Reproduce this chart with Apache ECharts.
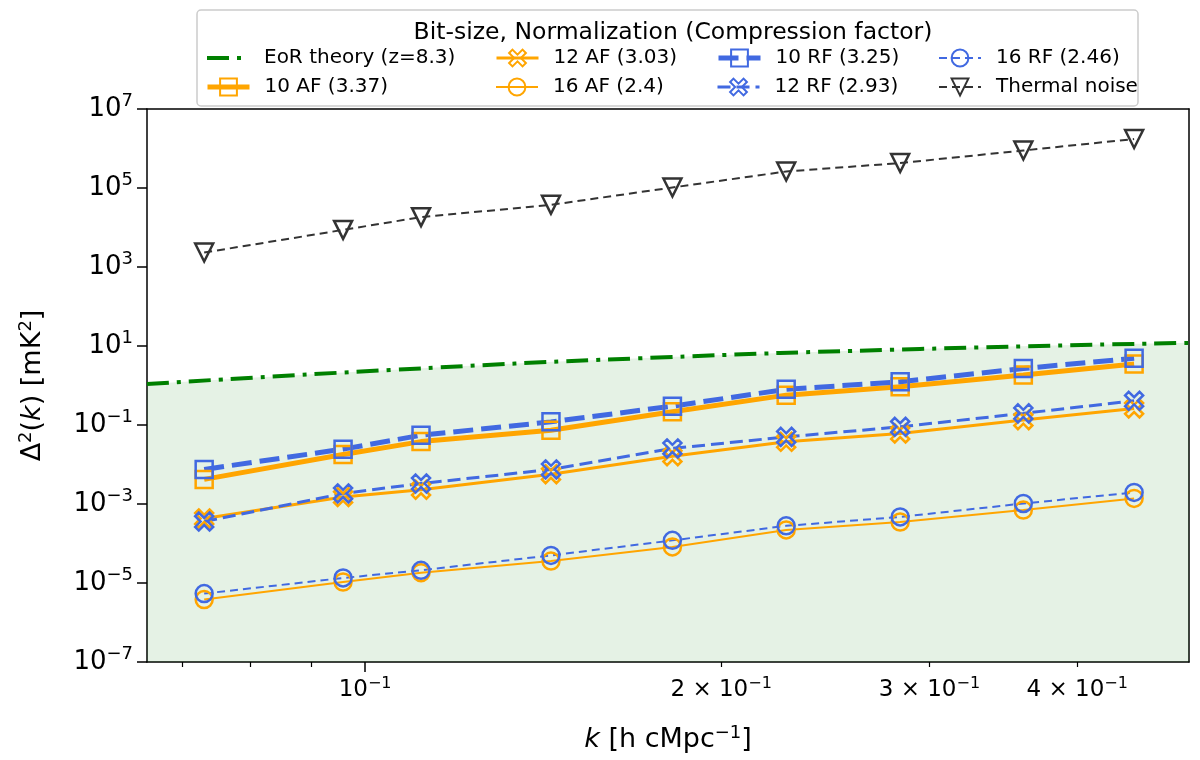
<!DOCTYPE html>
<html>
<head>
<meta charset="utf-8">
<script src="https://cdn.jsdelivr.net/npm/echarts@6/dist/echarts.min.js"></script>
<style>
html,body{margin:0;padding:0;background:#fff;}
#chart{width:1200px;height:760px;}
</style>
</head>
<body>
<div id="chart"></div>
<script>
// ---- data ----
const kValues = [0.0731, 0.0958, 0.1115, 0.1436, 0.1819, 0.2270, 0.2834, 0.3602, 0.4469];
const af10 = [0.0042, 0.018, 0.038, 0.074, 0.216, 0.57, 0.93, 1.84, 3.5];
const af12 = [4.3e-4, 1.5e-3, 2.3e-3, 5.7e-3, 0.0162, 0.0375, 0.061, 0.133, 0.263];
const af16 = [3.8e-6, 1.06e-5, 1.83e-5, 3.6e-5, 8.2e-5, 2.2e-4, 3.5e-4, 7.0e-4, 1.38e-3];
const rf10 = [0.0075, 0.0245, 0.055, 0.12, 0.30, 0.80, 1.24, 2.7, 4.9];
const rf12 = [3.6e-4, 1.85e-3, 3.3e-3, 7.5e-3, 0.0255, 0.050, 0.090, 0.197, 0.41];
const rf16 = [5.4e-6, 1.34e-5, 2.1e-5, 5.0e-5, 1.2e-4, 2.8e-4, 4.7e-4, 1.03e-3, 1.96e-3];
const thermal = [2320, 8700, 18300, 37500, 1.03e5, 2.62e5, 4.28e5, 8.9e5, 1.74e6];
const theoryK = [0.0654, 0.105, 0.1708, 0.2945, 0.4973];
const theoryVal = [1.09, 2.47, 4.9, 8.4, 12];
const xMin = 0.0654, xMax = 0.4973;
const yMin = 1e-7, yMax = 1e7;
const yTickValues = [1e-7, 1e-5, 1e-3, 1e-1, 1e1, 1e3, 1e5, 1e7];
const xLabelValues = [0.1, 0.2, 0.3, 0.4];
const xMinorValues = [0.07, 0.08, 0.09, 0.2, 0.3, 0.4];
const xMajorValues = [0.1];
const legendTitle = 'Bit-size, Normalization (Compression factor)';
const names = {
  theory: 'EoR theory (z=8.3)',
  af10: '10 AF (3.37)', af12: '12 AF (3.03)', af16: '16 AF (2.4)',
  rf10: '10 RF (3.25)', rf12: '12 RF (2.93)', rf16: '16 RF (2.46)',
  thermal: 'Thermal noise'
};

// ---- styles ----
const FONT = 'DejaVu Sans';
const ORANGE = '#FFA500', BLUE = '#4169E1', GREEN = '#008000', DARK = '#333333';
const XPATH = 'path://M2,0 L5,3 L8,0 L10,2 L7,5 L10,8 L8,10 L5,7 L2,10 L0,8 L3,5 L0,2 Z';
const pairs = (xs, ys) => xs.map((x, i) => [x, ys[i]]);
const sup = s => String(s).replace('-', '\u2212');

const lineWidths = {};
function mk(name, arr, color, width, type, symbol, size, extra) {
  lineWidths[name] = width;
  return Object.assign({
    name, type: 'line', data: pairs(kValues, arr),
    symbol, symbolSize: size, showSymbol: true,
    lineStyle: {color, width, type, cap: 'butt'},
    itemStyle: {color: 'rgba(255,255,255,0)', borderColor: color, borderWidth: 2.5},
    emphasis: {disabled: true},
    animation: false, z: 3
  }, extra || {});
}

lineWidths[names.theory] = 4;
const series = [
  {
    name: names.theory, type: 'line', data: pairs(theoryK, theoryVal),
    showSymbol: false, symbol: 'none', smooth: true,
    lineStyle: {color: GREEN, width: 4, type: [22, 8, 4, 8], cap: 'butt'},
    itemStyle: {color: GREEN},
    areaStyle: {color: 'rgba(0,128,0,0.1)', opacity: 1, origin: 'start'},
    emphasis: {disabled: true}, animation: false, z: 2
  },
  mk(names.af10, af10, ORANGE, 5, 'solid', 'rect', 17),
  mk(names.af12, af12, ORANGE, 3, 'solid', XPATH, 18),
  mk(names.af16, af16, ORANGE, 2, 'solid', 'circle', 17),
  mk(names.rf10, rf10, BLUE, 5, [20, 8], 'rect', 17),
  mk(names.rf12, rf12, BLUE, 3, [13, 6], XPATH, 18),
  mk(names.rf16, rf16, BLUE, 2, [8, 5], 'circle', 17),
  mk(names.thermal, thermal, DARK, 2, [8, 5], 'triangle', 18, {symbolRotate: 180})
];

// legend layout (column-major like the reference)
const legendItems = [
  [names.theory, 205, 48], [names.af10, 205, 77],
  [names.af12, 495, 48], [names.af16, 495, 77],
  [names.rf10, 716, 48], [names.rf12, 716, 77],
  [names.rf16, 938, 48], [names.thermal, 938, 77]
];
const legends = legendItems.map(([n, l, t]) => {
  const item = {name: n, lineStyle: {width: lineWidths[n]}};
  if (n === names.theory) item.itemStyle = {opacity: 0};
  return {
    data: [item], left: l, top: t, padding: 0, itemWidth: 42, itemHeight: 21,
    selectedMode: false,
    textStyle: {fontFamily: FONT, fontSize: 20, color: '#000', padding: [0, 0, 0, 10]}
  };
});

const gridL = 147, gridR = 11, gridT = 109, gridB = 98;

const option = {
  backgroundColor: '#fff',
  animation: false,
  title: {
    text: legendTitle, left: 668, top: 16, textAlign: 'center',
    textStyle: {fontFamily: FONT, fontSize: 23.5, fontWeight: 'normal', color: '#000'}
  },
  graphic: [{
    type: 'rect', z: -1, silent: true,
    shape: {x: 197, y: 10, width: 941, height: 96, r: 4},
    style: {fill: 'rgba(255,255,255,0.8)', stroke: '#cccccc', lineWidth: 1.5}
  }],
  legend: legends,
  grid: {left: gridL, right: gridR, top: gridT, bottom: gridB, containLabel: false},
  xAxis: [
    {
      type: 'log', min: xMin, max: xMax, position: 'bottom',
      axisLine: {show: true, lineStyle: {color: '#000', width: 1.5}},
      axisTick: {show: true, length: 5, lineStyle: {color: '#000', width: 1.2}, customValues: xMinorValues},
      axisLabel: {
        show: true, customValues: xLabelValues, margin: 14,
        fontFamily: FONT, fontSize: 23, color: '#000',
        formatter: v => {
          const e = Math.floor(Math.log10(v) + 1e-9);
          const m = Math.round(v / Math.pow(10, e));
          return (m === 1 ? '' : m + ' \u00d7 ') + '10{s|' + sup(e) + '}';
        },
        rich: {s: {fontSize: 16, fontFamily: FONT, color: '#000', padding: [0, 0, 13, 0]}}
      },
      splitLine: {show: false},
      name: '{i|k}{n| [h cMpc}{s|\u22121}{n|]}',
      nameLocation: 'middle', nameGap: 62,
      nameTextStyle: {
        fontFamily: FONT, fontSize: 27, color: '#000',
        rich: {
          i: {fontFamily: FONT, fontSize: 27, fontStyle: 'italic', color: '#000'},
          n: {fontFamily: FONT, fontSize: 27, color: '#000'},
          s: {fontFamily: FONT, fontSize: 18, color: '#000', padding: [0, 0, 14, 0]}
        }
      }
    },
    {
      type: 'log', min: xMin, max: xMax, position: 'bottom',
      axisLine: {show: false},
      axisTick: {show: true, length: 10, lineStyle: {color: '#000', width: 1.5}, customValues: xMajorValues},
      axisLabel: {show: false}, splitLine: {show: false}
    },
    {
      type: 'log', min: xMin, max: xMax, position: 'top',
      axisLine: {show: true, lineStyle: {color: '#000', width: 1.5}},
      axisTick: {show: false}, axisLabel: {show: false}, splitLine: {show: false}
    }
  ],
  yAxis: [
    {
      type: 'log', min: yMin, max: yMax, position: 'left',
      axisLine: {show: true, lineStyle: {color: '#000', width: 1.5}},
      axisTick: {show: true, length: 10, lineStyle: {color: '#000', width: 1.5}, customValues: yTickValues},
      axisLabel: {
        show: true, customValues: yTickValues, margin: 14,
        fontFamily: FONT, fontSize: 26, color: '#000',
        formatter: v => '10{s|' + sup(Math.round(Math.log10(v))) + '}',
        rich: {s: {fontSize: 18, fontFamily: FONT, color: '#000', padding: [0, 0, 15, 0]}}
      },
      splitLine: {show: false},
      name: '\u0394{s|2}{n|(}{i|k}{n|) [mK}{s|2}{n|]}',
      nameLocation: 'middle', nameGap: 98, nameRotate: 90,
      nameTextStyle: {
        fontFamily: FONT, fontSize: 27, color: '#000',
        rich: {
          i: {fontFamily: FONT, fontSize: 27, fontStyle: 'italic', color: '#000'},
          n: {fontFamily: FONT, fontSize: 27, color: '#000'},
          s: {fontFamily: FONT, fontSize: 18, color: '#000', padding: [0, 0, 14, 0]}
        }
      }
    },
    {
      type: 'log', min: yMin, max: yMax, position: 'right',
      axisLine: {show: true, lineStyle: {color: '#000', width: 1.5}},
      axisTick: {show: false}, axisLabel: {show: false}, splitLine: {show: false}
    }
  ],
  series: series
};

const chart = echarts.init(document.getElementById('chart'), null, {renderer: 'canvas'});
chart.setOption(option);
</script>
</body>
</html>
